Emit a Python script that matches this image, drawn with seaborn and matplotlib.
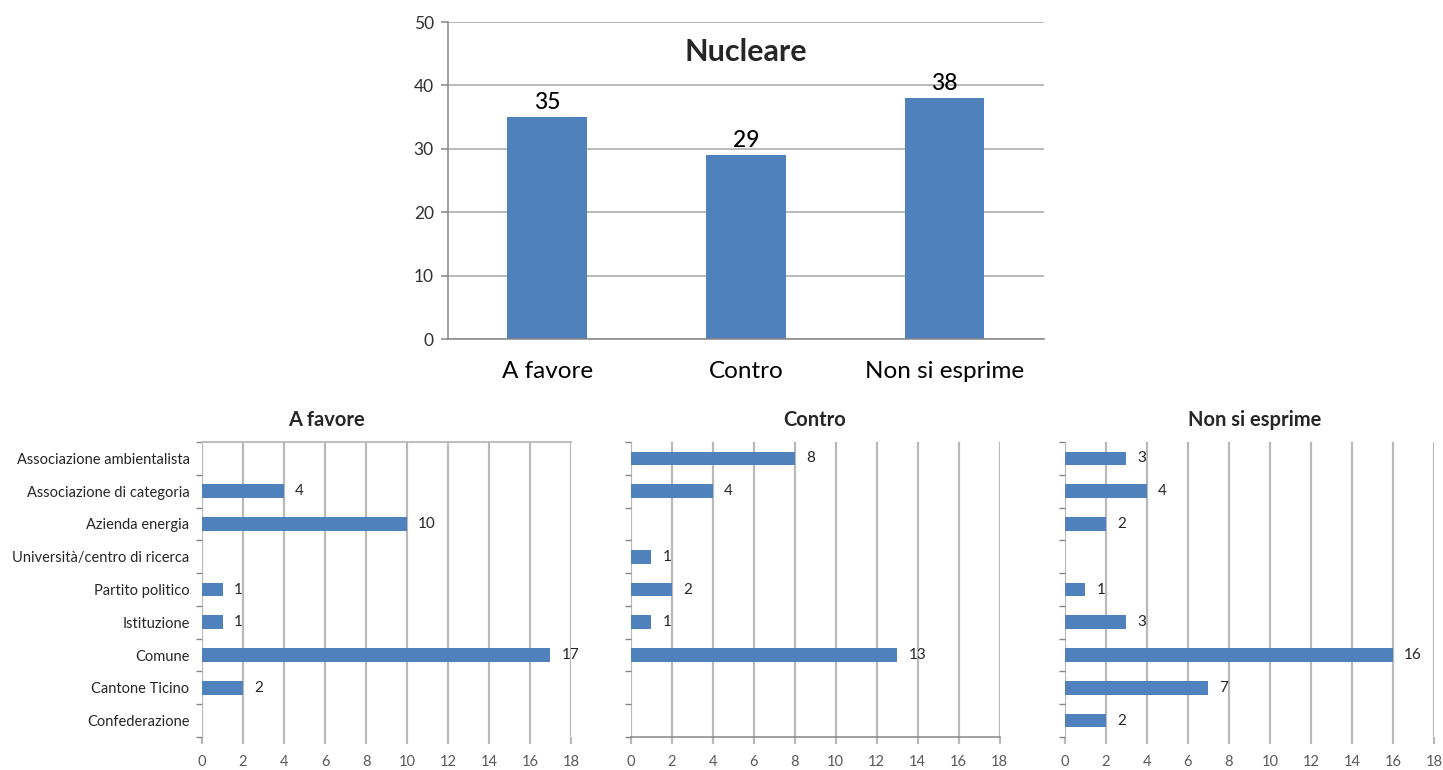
import numpy as np
import pandas as pd
import seaborn as sns
import matplotlib.pyplot as plt
from matplotlib.ticker import FixedLocator

sns.set_style('white')
plt.rcParams['font.family'] = ['Lato', 'DejaVu Sans']

# data
stance = ['A favore', 'Contro', 'Non si esprime']
total = [35, 29, 38]

actors = ['Associazione ambientalista', 'Associazione di categoria',
          'Azienda energia', 'Università/centro di ricerca',
          'Partito politico', 'Istituzione', 'Comune',
          'Cantone Ticino', 'Confederazione']
a_favore = [0, 4, 10, 0, 1, 1, 17, 2, 0]
contro = [8, 4, 0, 1, 2, 1, 13, 0, 0]
non_si_esprime = [3, 4, 2, 0, 1, 3, 16, 7, 2]

blue = '#4F81BD'
grid_c = '#b9b9b9'
axis_c = '#868686'

fig = plt.figure(figsize=(14.43, 7.7), dpi=100)

#==================================
# top chart: Nucleare
#==================================
ax = fig.add_axes([0.3103, 0.5597, 0.4132, 0.4117])
sns.barplot(x=stance, y=total, color=blue, saturation=1, width=0.4,
            linewidth=0, ax=ax)
ax.bar_label(ax.containers[0], fontsize=16.5, padding=3, color='black',
             fontweight='medium')
ax.set_ylim(0, 50)
ax.set_xlim(-0.5, 2.5)
ax.set_yticks(range(0, 51, 10))
ax.yaxis.grid(True, color='#a6a6a6', linewidth=1.1)
ax.set_axisbelow(True)
for s in ['top', 'right']:
    ax.spines[s].set_visible(False)
for s in ['left', 'bottom']:
    ax.spines[s].set_color(axis_c)
    ax.spines[s].set_linewidth(1.1)
ax.xaxis.set_minor_locator(FixedLocator([-0.5, 0.5, 1.5, 2.5]))
ax.tick_params(axis='x', which='major', length=0, pad=16, labelsize=17.5,
               labelcolor='black')
ax.tick_params(axis='x', which='minor', direction='out', length=5,
               width=1.1, color=axis_c)
ax.tick_params(axis='y', direction='out', length=5, width=1.1, color=axis_c,
               labelsize=12.5, labelcolor='#303030', pad=5, left=True)
ax.set_xlabel('')
ax.set_ylabel('')
ax.text(0.5, 0.905, 'Nucleare', transform=ax.transAxes, ha='center',
        va='center', fontsize=22, fontweight='bold')

#==================================
# bottom charts
#==================================
panels = [('A favore', a_favore, 0.1400, 0.2266),
          ('Contro', contro, 0.4371, 0.5648),
          ('Non si esprime', non_si_esprime, 0.7380, 0.8697)]

for i, (title, vals, left, tx) in enumerate(panels):
    ax = fig.add_axes([left, 0.04286, 0.2557, 0.3831])
    sns.barplot(x=vals, y=actors, orient='h', color=blue, saturation=1,
                width=0.42, linewidth=0, ax=ax)
    ax.bar_label(ax.containers[0],
                 labels=[str(v) if v else '' for v in vals],
                 padding=8, fontsize=11, color='#262626')
    ax.set_xlim(0, 18)
    ax.set_ylim(8.5, -0.5)
    ax.set_xticks(range(0, 19, 2))
    ax.xaxis.grid(True, color=grid_c, linewidth=1.6)
    ax.set_axisbelow(True)
    for s in ax.spines.values():
        s.set_visible(False)
    if i == 0:
        ax.spines['top'].set_visible(True)
        ax.spines['top'].set_color(grid_c)
        ax.spines['top'].set_linewidth(1.3)
    if i == 1:
        ax.spines['bottom'].set_visible(True)
        ax.spines['bottom'].set_color(axis_c)
        ax.spines['bottom'].set_linewidth(1.1)
    ax.yaxis.set_minor_locator(FixedLocator(np.arange(-0.5, 9, 1)))
    ax.tick_params(axis='y', which='major', length=0, pad=9, labelsize=10.5,
                   labelcolor='#262626')
    ax.tick_params(axis='y', which='minor', left=True, direction='out',
                   length=4, width=1, color=axis_c)
    ax.tick_params(axis='x', bottom=True, direction='out', length=5,
                   width=1.6, color=grid_c, labelsize=10.5,
                   labelcolor='#595959', pad=8)
    if i > 0:
        ax.set_yticklabels([])
    ax.set_xlabel('')
    ax.set_ylabel('')
    fig.text(tx, 0.4545, title, ha='center', va='center', fontsize=14.5,
             fontweight='bold')

fig.savefig('out.png', dpi=100)
